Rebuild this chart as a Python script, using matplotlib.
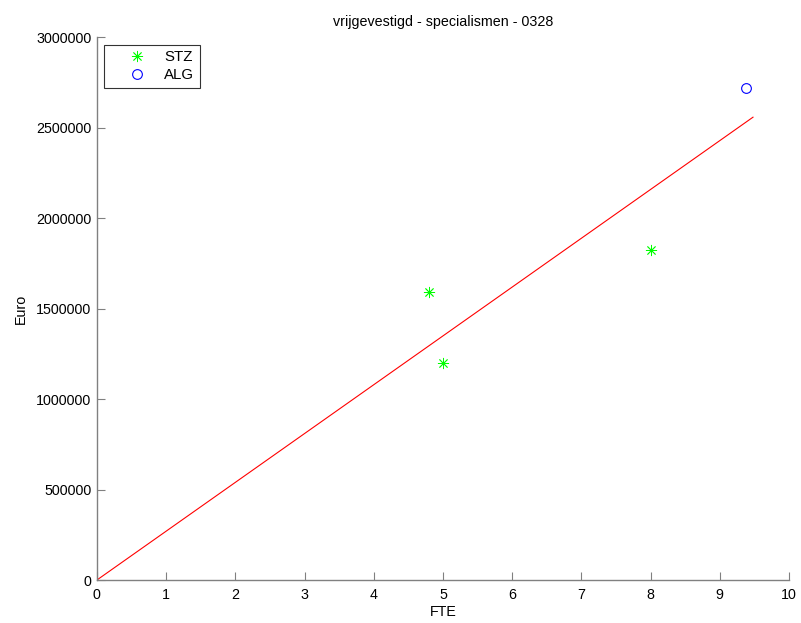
import matplotlib
matplotlib.use("Agg")
import matplotlib.pyplot as plt
import numpy as np

plt.rcParams['font.family'] = ['Liberation Sans', 'DejaVu Sans']

stz_fte = [4.8, 5.0, 8.0]
stz_euro = [1590000, 1198000, 1822000]
alg_fte = [9.38]
alg_euro = [2717000]
fit_fte = [0, 9.48]
fit_euro = [0, 2557000]
xticks = list(range(0, 11))
yticks = [0, 500000, 1000000, 1500000, 2000000, 2500000, 3000000]

fig = plt.figure(figsize=(8.01, 6.23), dpi=100)
ax = fig.add_axes([0.121, 0.069, 0.864, 0.8716])

ax.plot(fit_fte, fit_euro, color='red', lw=0.8, zorder=1)
ax.plot(stz_fte, stz_euro, linestyle='none', marker=(8, 2, 0), color='#00ff00',
        markersize=8, markeredgewidth=0.6, label='STZ', zorder=2)
ax.plot(alg_fte, alg_euro, linestyle='none', marker='o', markerfacecolor='none',
        markeredgecolor='blue', markersize=7, markeredgewidth=0.8, label='ALG', zorder=2)

ax.set_xlim(0, 10)
ax.set_ylim(0, 3000000)
ax.set_xticks(xticks)
ax.set_yticks(yticks)
ax.set_yticklabels([str(v) for v in yticks])
ax.set_xticklabels([str(v) for v in xticks])
for s in ['top', 'right']:
    ax.spines[s].set_visible(False)
for s in ['left', 'bottom']:
    ax.spines[s].set_color('#808080')
    ax.spines[s].set_linewidth(1.0)
ax.tick_params(direction='in', length=6, color='#808080', labelsize=10.3)
ax.tick_params(axis='x', pad=6)
ax.tick_params(axis='y', pad=4)
ax.set_xlabel('FTE', fontsize=10.3, labelpad=2)
ax.set_ylabel('Euro', fontsize=10.3, labelpad=6)
ax.set_title('vrijgevestigd - specialismen - 0328', fontsize=10.3, pad=8)

leg = ax.legend(loc='upper left', fontsize=10.8, frameon=True, fancybox=False,
                borderpad=0.35, handletextpad=0.05, borderaxespad=0.5, handlelength=3.6,
                labelspacing=0.3)
leg.get_frame().set_edgecolor('black')
leg.get_frame().set_linewidth(0.8)

fig.savefig('out.png', dpi=100)
